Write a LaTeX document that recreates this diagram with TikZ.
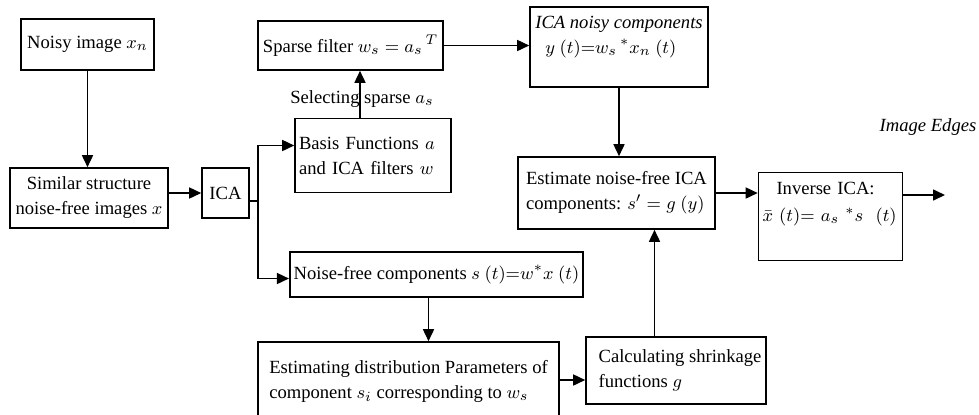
\documentclass[tikz,border=0pt]{standalone}
\usepackage{fontspec}
\setmainfont{Liberation Serif}
\usetikzlibrary{arrows.meta,positioning}
\tikzset{
    %Define standard arrow tip
    >={Triangle[length=6pt,width=5.5pt]},
    %Define style for boxes
    boks/.style={
           rectangle,
           draw=black,
           line width=0.8pt,
           inner xsep=2pt,
           inner ysep=1pt,
           align=left},
    % Define arrow style
    pil/.style={
           ->,
           line width=0.8pt}
}

\begin{document}
\begin{tikzpicture}[x=0.5pt,y=-0.5pt]
  \fontsize{9.3}{12.5}\selectfont
  \useasboundingbox (0,0) rectangle (979,414);
  % left column
  \node[boks,minimum width=66.5pt,minimum height=25.5pt] (noisy) at (87.5,44.5) {Noisy image $x_{n}$};
  \node[boks,align=center,minimum width=79pt,minimum height=30pt] (similar) at (89,198) {Similar structure\\ noise-free images $x$};
  \node[boks,align=center,minimum width=23.5pt,minimum height=25pt] (ica) at (225.5,193) {ICA};
  % middle column
  \node[boks,minimum width=92.5pt,minimum height=24.5pt] (sparse) at (350.5,45.5) {Sparse filter $w_{s} = a_{s}{}^{\,T}$};
  \node[boks,text width=74pt,minimum height=37pt] (basis) at (373,155.5) {Basis Functions $a$\\ and ICA filters $w$};
  \node (select) at (362,99) {Selecting sparse $a_{s}$};
  \node[boks,minimum width=144.5pt,minimum height=22.5pt] (noisefree) at (436.5,274.5) {Noise-free components $s\ (t){=}w^{*}x\ (t)$};
  \node[boks,minimum width=150.5pt,minimum height=39pt] (estdist) at (408.5,381) {Estimating distribution Parameters of\\ component $s_{i}$ corresponding to $w_{s}$};
  % right part
  \node[boks,minimum width=89pt,minimum height=40pt] (noisyica) at (619,47) {\textit{ICA noisy components}\\ \hspace*{5pt}$y\ (t){=}w_{s}\,{}^{*}x_{n}\ (t)$\\ \mbox{}};
  \node[boks,minimum width=98.5pt,minimum height=36pt] (estimate) at (616.5,193) {Estimate noise-free ICA\\ components: $s' = g\ (y)$};
  \node[boks,minimum width=90pt,minimum height=33.5pt] (shrink) at (676,370.5) {\hspace*{4pt}Calculating shrinkage\\ \hspace*{4pt}functions $g$};
  \node[boks,text width=68pt,minimum height=44pt] (inverse) at (830.5,216.5) {\hspace*{7pt}Inverse ICA:\\[1pt] $\bar{x}\ (t){=}\ a_{s}\ {}^{*}s\ \ (t)$\\[2pt] \mbox{}};
  \node[font=\itshape] (edges) at (928,127) {Image Edges};
  \coordinate (split) at (258,201);
  \coordinate (out) at (945,195);
  % connectors
  \draw[pil] (noisy.south) -- (noisy.south |- similar.north);
  \draw[pil] (similar.east |- ica.west) -- (ica.west);
  \draw[line width=0.8pt] (ica.east |- split) -- (split);
  \draw[pil] (split) |- ([yshift=5pt]basis.west);
  \draw[pil] (split) |- ([yshift=-2pt]noisefree.west);
  \draw[pil] ([xshift=-6.5pt]basis.north) -- ([xshift=-6.5pt]basis.north |- sparse.south);
  \draw[pil] (sparse.east) -- (sparse.east -| noisyica.west);
  \draw[pil] (noisyica.south) -- (noisyica.south |- estimate.north);
  \draw[pil] (estimate.east) -- (estimate.east -| inverse.west);
  \draw[pil] (inverse.east |- out) -- (out);
  \draw[pil] ([xshift=-4pt]noisefree.south) -- ([xshift=-4pt]noisefree.south |- estdist.north);
  \draw[pil] (estdist.east |- 0,380) -- (shrink.west |- 0,380);
  \draw[pil] ([xshift=19pt]estimate.south |- shrink.north) -- ([xshift=19pt]estimate.south);
\end{tikzpicture}
\end{document}
